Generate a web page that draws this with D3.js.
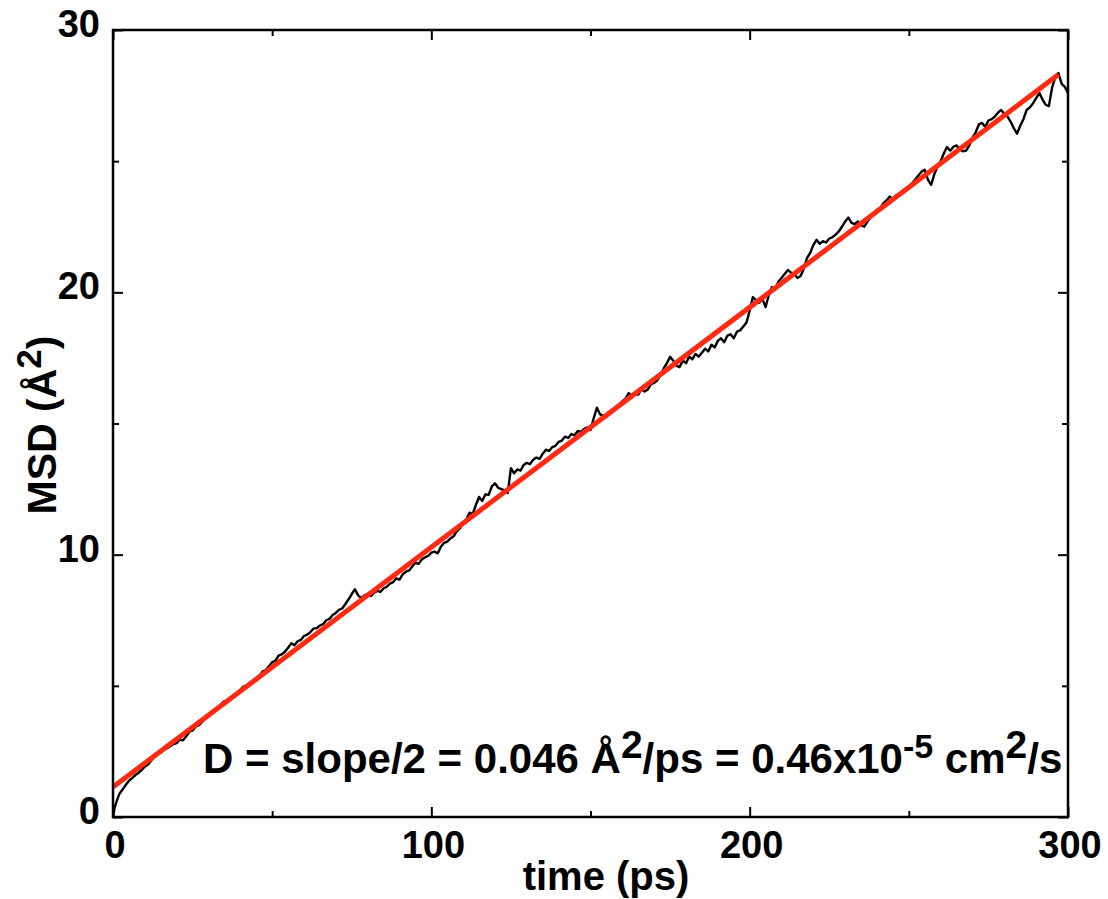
<!DOCTYPE html>
<html><head><meta charset="utf-8">
<script src="https://cdn.jsdelivr.net/npm/d3@7"></script>
<style>body{margin:0;background:#fff;} text{font-family:"Liberation Sans",Arial,sans-serif;font-weight:bold;fill:#000;}</style>
</head><body>
<svg id="c" width="1108" height="899"></svg>
<script>
// ---- data ----
const msdTime = [0,0.5,1,1.5,2,3,4,5,6,7,8,9,10,11,12,13,14,15,16,17,18,19,20,21,22,23,24,25,26,27,28,29,30,31,32,33,34,35,36,37,38,39,40,41,42,43,44,45,46,47,48,49,50,51,52,53,54,55,56,57,58,59,60,61,62,63,64,65,66,67,68,69,70,71,72,73,74,75,76,77,78,79,80,81,82,83,84,85,86,87,88,89,90,91,92,93,94,95,96,97,98,99,100,101,102,103,104,105,106,107,108,109,110,111,112,113,114,115,116,117,118,119,120,121,122,123,124,125,126,127,128,129,130,131,132,133,134,135,136,137,138,139,140,141,142,143,144,145,146,147,148,149,150,151,152,153,154,155,156,157,158,159,160,161,162,163,164,165,166,167,168,169,170,171,172,173,174,175,176,177,178,179,180,181,182,183,184,185,186,187,188,189,190,191,192,193,194,195,196,197,198,199,200,201,202,203,204,205,206,207,208,209,210,211,212,213,214,215,216,217,218,219,220,221,222,223,224,225,226,227,228,229,230,231,232,233,234,235,236,237,238,239,240,241,242,243,244,245,246,247,248,249,250,251,252,253,254,255,256,257,258,259,260,261,262,263,264,265,266,267,268,269,270,271,272,273,274,275,276,277,278,279,280,281,282,283,284,285,286,287,288,289,290,291,292,293,294,295,296,297,298,299,300];
const msdValue = [0,0.35,0.55,0.72,0.88,1.05,1.22,1.38,1.48,1.6,1.68,1.8,1.92,2.0,2.15,2.3,2.42,2.45,2.58,2.62,2.7,2.78,2.82,2.95,2.92,3.08,3.25,3.3,3.45,3.5,3.62,3.75,3.82,3.95,4.1,4.12,4.3,4.42,4.38,4.55,4.62,4.7,4.85,4.98,4.95,5.12,5.2,5.3,5.38,5.55,5.6,5.75,5.9,5.95,6.15,6.2,6.3,6.45,6.62,6.55,6.7,6.75,6.9,6.95,7.05,7.18,7.2,7.3,7.35,7.5,7.55,7.7,7.78,7.9,7.95,8.12,8.3,8.5,8.68,8.45,8.35,8.45,8.5,8.42,8.55,8.62,8.58,8.72,8.77,8.9,8.95,9.1,9.05,9.25,9.35,9.4,9.55,9.7,9.65,9.82,9.9,9.95,10.08,10.12,10.05,10.3,10.45,10.5,10.62,10.7,10.9,11.0,11.2,11.35,11.6,11.55,11.9,12.2,12.05,12.3,12.28,12.6,12.72,12.55,12.5,12.45,12.35,13.3,13.1,13.25,13.2,13.42,13.5,13.45,13.62,13.7,13.65,13.85,14.0,13.95,14.1,14.15,14.3,14.35,14.5,14.45,14.6,14.55,14.72,14.68,14.8,14.85,14.75,15.2,15.6,15.35,15.3,15.25,15.42,15.5,15.62,15.7,15.85,15.95,16.16,16.05,16.12,16.1,16.3,16.22,16.3,16.5,16.55,16.65,16.85,17.1,17.3,17.54,17.4,17.2,17.15,17.4,17.3,17.55,17.45,17.65,17.55,17.7,17.85,17.75,18.0,17.9,18.15,18.25,18.1,18.35,18.4,18.25,18.5,18.55,18.7,18.85,19.3,19.82,19.7,19.6,19.75,19.44,19.9,20.2,20.1,20.4,20.55,20.7,20.85,20.75,20.7,20.55,20.62,20.9,21.3,21.5,21.8,22.0,21.85,21.95,21.9,22.05,22.1,22.2,22.32,22.5,22.7,22.85,22.65,22.6,22.7,22.55,22.5,22.7,22.85,23.0,23.15,23.2,23.4,23.5,23.65,23.55,23.7,23.75,23.8,23.95,24.02,24.15,24.3,24.45,24.6,24.67,24.3,24.1,24.5,24.8,25.0,25.3,25.54,25.4,25.55,25.6,25.45,25.38,25.4,25.6,25.9,26.1,26.4,26.46,26.3,26.55,26.6,26.7,26.85,26.95,26.8,26.7,26.5,26.25,26.05,26.35,26.6,26.95,27.05,27.2,27.4,27.6,27.35,27.15,27.1,27.8,28.2,28.36,27.95,27.83,27.6];
const fitTime = [0, 297];
const fitValue = [1.14, 28.3];
const xTicks = [0, 100, 200, 300];
const xMinor = [50, 150, 250];
const yTicks = [0, 10, 20, 30];
const yMinor = [5, 15, 25];

// ---- layout ----
const L = 113, T = 30, R = 1068, B = 817;
const svg = d3.select("#c");
const x = d3.scaleLinear().domain([0, 300]).range([L, R]);
const y = d3.scaleLinear().domain([0, 30]).range([B, T]);

// axes with inward ticks on all four sides
function addAxis(gen, transform, major, minor) {
  const g = svg.append("g").attr("transform", transform);
  g.call(gen.tickValues(major).tickSize(-10).tickFormat(""));
  g.selectAll(".tick line").attr("stroke", "#000").attr("stroke-width", 2);
  g.select(".domain").remove();
  const g2 = svg.append("g").attr("transform", transform);
  g2.call(gen.tickValues(minor).tickSize(-6).tickFormat(""));
  g2.selectAll(".tick line").attr("stroke", "#000").attr("stroke-width", 2);
  g2.select(".domain").remove();
}
addAxis(d3.axisBottom(x), `translate(0,${B})`, xTicks, xMinor);
addAxis(d3.axisTop(x), `translate(0,${T})`, xTicks, xMinor);
addAxis(d3.axisLeft(y), `translate(${L},0)`, yTicks, yMinor);
addAxis(d3.axisRight(y), `translate(${R},0)`, yTicks, yMinor);

// tick labels
svg.append("g").selectAll("text").data(xTicks).join("text")
  .attr("x", d => x(d) + 2).attr("y", 858).attr("text-anchor", "middle")
  .style("font-size", "38px").text(d => d);
svg.append("g").selectAll("text").data(yTicks).join("text")
  .attr("x", 100).attr("y", d => y(d) + 7).attr("text-anchor", "end")
  .style("font-size", "38px").text(d => d);

// data curve
const pts = msdTime.map((t, i) => [t, msdValue[i]]);
svg.append("path").datum(pts)
  .attr("d", d3.line().x(d => x(d[0])).y(d => y(d[1])))
  .attr("fill", "none").attr("stroke", "#000").attr("stroke-width", 2.4).attr("stroke-linejoin", "round");

// fit line
const fit = fitTime.map((t, i) => [t, fitValue[i]]);
svg.append("path").datum(fit)
  .attr("d", d3.line().x(d => x(d[0])).y(d => y(d[1])))
  .attr("fill", "none").attr("stroke", "#ff2a12").attr("stroke-width", 5);

// frame
svg.append("rect").attr("x", L).attr("y", T).attr("width", R - L).attr("height", B - T)
  .attr("fill", "none").attr("stroke", "#000").attr("stroke-width", 2.5);

// axis titles
svg.append("text").attr("x", 606).attr("y", 890).attr("text-anchor", "middle")
  .style("font-size", "40px").text("time (ps)");
const yt = svg.append("text").attr("transform", "translate(56,425) rotate(-90)")
  .attr("text-anchor", "middle").style("font-size", "41px");
yt.append("tspan").text("MSD (Å");
yt.append("tspan").attr("dy", -15).style("font-size", "35px").text("2");
yt.append("tspan").attr("dy", 15).text(")");

// annotation
const an = svg.append("text").attr("x", 203).attr("y", 773).style("font-size", "42px");
an.append("tspan").text("D = slope/2 = 0.046 Å");
an.append("tspan").attr("dy", -15).style("font-size", "39px").text("2");
an.append("tspan").attr("dy", 15).text("/ps = 0.46x10");
an.append("tspan").attr("dy", -15).style("font-size", "34px").text("-5");
an.append("tspan").attr("dy", 15).text(" cm");
an.append("tspan").attr("dy", -15).style("font-size", "39px").text("2");
an.append("tspan").attr("dy", 15).text("/s");
</script>
</body></html>
